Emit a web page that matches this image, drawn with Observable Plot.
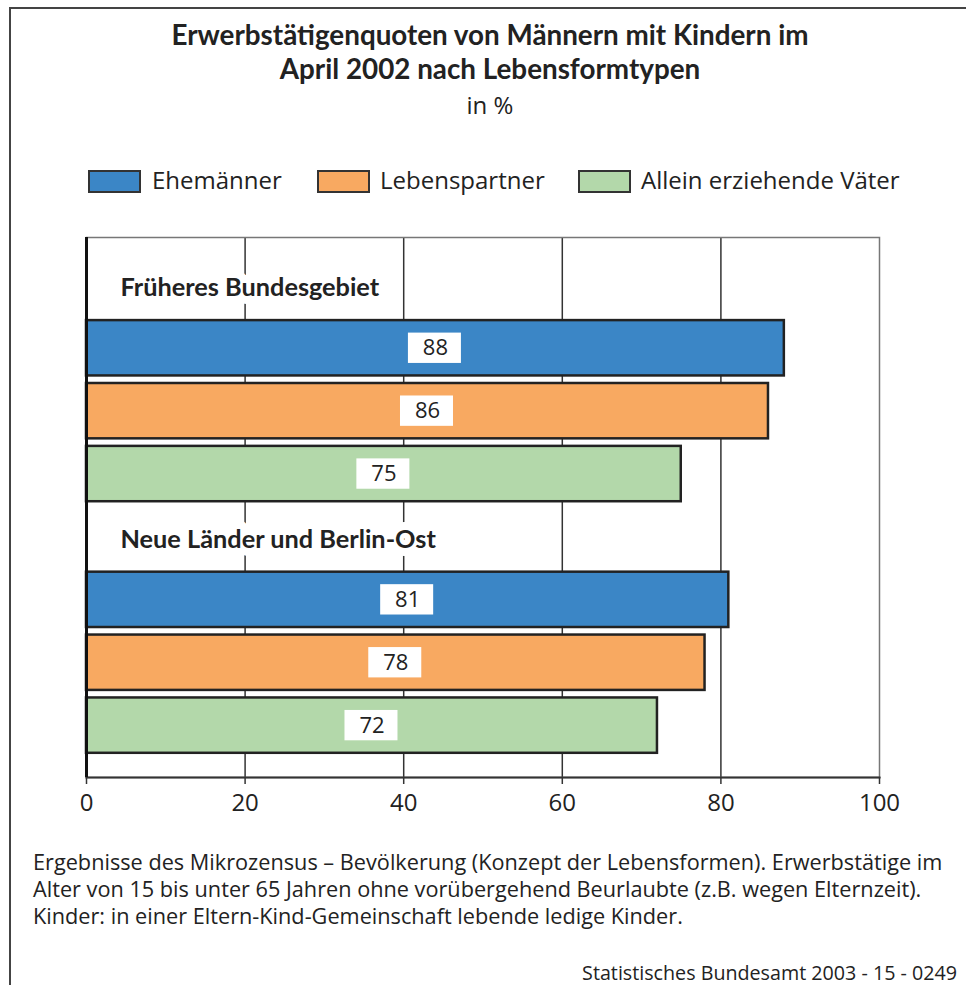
<!DOCTYPE html>
<html>
<head>
<meta charset="utf-8">
<script src="https://cdn.jsdelivr.net/npm/d3@7"></script>
<script src="https://cdn.jsdelivr.net/npm/@observablehq/plot@0.6"></script>
<style>
  html, body { margin: 0; padding: 0; background: #fff; }
  body { width: 966px; height: 985px; position: relative; overflow: hidden; font-family: "Open Sans", sans-serif; color: #222; }
  .abs { position: absolute; white-space: nowrap; }
  #frame { position: absolute; left: 9px; top: 7px; width: 1100px; height: 1100px; border-top: 2px solid #444; border-left: 2px solid #444; }
  .title { font-family: Lato, sans-serif; font-weight: 700; font-size: 27.8px; line-height: 28px; left: 0; width: 980px; text-align: center; }
  .lbox { position: absolute; width: 49px; height: 19px; border: 2px solid #333; top: 170px; }
  .ltext { font-size: 24px; line-height: 24px; }
  .foot { font-size: 21.7px; line-height: 21.7px; left: 33px; }
  #chart { position: absolute; left: 0; top: 220px; }
</style>
</head>
<body>
<div id="frame"></div>
<div id="titles"></div>
<div id="legend"></div>
<div id="chart"></div>
<div id="notes"></div>
<script>
const titleLines = ["Erwerbstätigenquoten von Männern mit Kindern im", "April 2002 nach Lebensformtypen"];
const subtitle = "in %";
const regions = ["Früheres Bundesgebiet", "Neue Länder und Berlin-Ost"];
const types = ["Ehemänner", "Lebenspartner", "Allein erziehende Väter"];
const colors = ["#3b86c6", "#f8a961", "#b3d8aa"];
const valuesFB = [88, 86, 75];
const valuesNL = [81, 78, 72];
const xTicks = [0, 20, 40, 60, 80, 100];
const gridTicks = [20, 40, 60, 80];
const footLines = [
  "Ergebnisse des Mikrozensus – Bevölkerung (Konzept der Lebensformen). Erwerbstätige im",
  "Alter von 15 bis unter 65 Jahren ohne vorübergehend Beurlaubte (z.B. wegen Elternzeit).",
  "Kinder: in einer Eltern-Kind-Gemeinschaft lebende ledige Kinder."
];
const source = "Statistisches Bundesamt 2003 - 15 - 0249";

// Titles
const titles = document.getElementById("titles");
titleLines.forEach((t, i) => {
  const d = document.createElement("div");
  d.className = "abs title";
  d.style.top = (21 + i * 34) + "px";
  d.textContent = t;
  titles.appendChild(d);
});
{
  const d = document.createElement("div");
  d.className = "abs";
  d.style.cssText = "left:0;width:980px;text-align:center;font-size:24px;line-height:24px;top:93px;";
  d.textContent = subtitle;
  titles.appendChild(d);
}

// Legend
const legend = document.getElementById("legend");
const boxX = [88, 317, 578];
const textX = [152, 380, 641];
types.forEach((t, i) => {
  const b = document.createElement("div");
  b.className = "lbox";
  b.style.left = boxX[i] + "px";
  b.style.background = colors[i];
  legend.appendChild(b);
  const s = document.createElement("div");
  s.className = "abs ltext";
  s.style.left = textX[i] + "px";
  s.style.top = "168px";
  s.textContent = t;
  legend.appendChild(s);
});

// Data table
const values = [valuesFB, valuesNL];
const rows = [];
const data = [];
regions.forEach((r, i) => {
  rows.push(r);
  types.forEach((t, j) => {
    rows.push(r + "|" + t);
    data.push({region: r, type: t, row: r + "|" + t, value: values[i][j]});
  });
});

const chart = Plot.plot({
  width: 966,
  height: 620,
  marginLeft: 86,
  marginRight: 87,
  marginTop: 17,
  marginBottom: 63,
  style: {fontFamily: "'Open Sans', sans-serif", fontSize: "24px", color: "#222", background: "transparent", overflow: "visible"},
  x: {domain: [0, 100], axis: null},
  y: {domain: rows, axis: null, paddingInner: 0.12, paddingOuter: 0.353, align: 0.455, round: false},
  color: {domain: types, range: colors},
  marks: [
    Plot.gridX(gridTicks, {stroke: "#333", strokeOpacity: 1, strokeWidth: 1.5}),
    Plot.frame({stroke: "#777", strokeWidth: 1.5}),
    Plot.frame({anchor: "bottom", stroke: "#333", strokeWidth: 2}),
    Plot.axisX(xTicks, {label: null, tickSize: 7, tickPadding: 9, fontSize: 24, stroke: "#333", strokeWidth: 1.5, fill: "#222"}),
    Plot.text(regions, {x: 0, y: d => d, text: d => d, textAnchor: "start", dx: 34, dy: 2.5, fontFamily: "Lato, sans-serif", fontWeight: "bold", fontSize: 25.3, fill: "#222", stroke: "white", strokeWidth: 16}),
    Plot.barX(data, {x: "value", y: "row", fill: "type", stroke: "#222", strokeWidth: 2.5}),
    Plot.barX(data, {x1: d => d.value / 2, x2: d => d.value / 2, y: "row", fill: "white", insetLeft: -27, insetRight: -26, insetTop: 12.5, insetBottom: 12.5}),
    Plot.text(data, {x: d => d.value / 2, y: "row", text: d => String(d.value), fontSize: 22, fill: "#222"}),
    Plot.ruleX([0], {stroke: "#111", strokeWidth: 3})
  ]
});
document.getElementById("chart").appendChild(chart);

// Notes
const notes = document.getElementById("notes");
footLines.forEach((t, i) => {
  const d = document.createElement("div");
  d.className = "abs foot";
  d.style.top = (851 + i * 27) + "px";
  d.textContent = t;
  notes.appendChild(d);
});
{
  const d = document.createElement("div");
  d.className = "abs";
  d.style.cssText = "right:9px;top:963px;font-size:19.7px;line-height:19.7px;";
  d.textContent = source;
  notes.appendChild(d);
}
</script>
</body>
</html>
